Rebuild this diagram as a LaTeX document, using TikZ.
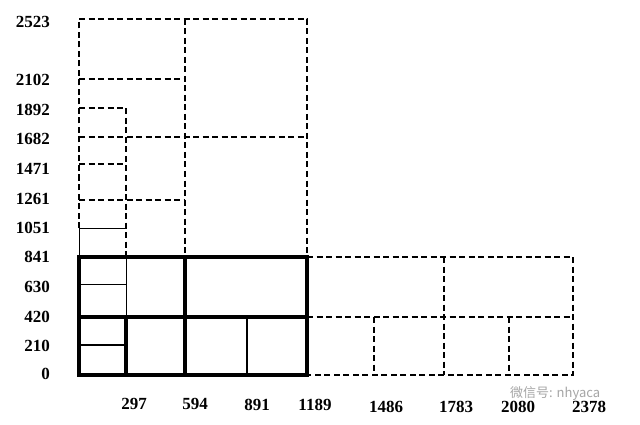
\documentclass[tikz,border=0pt]{standalone}
\usepackage{fontspec}
\setmainfont{Liberation Serif}
\newfontfamily\cjkfont{Noto Sans CJK SC}
\begin{document}
\begin{tikzpicture}[x=1pt,y=-1pt,
  thickln/.style={line width=3.4pt,line cap=rect},
  medln/.style={line width=2pt},
  thinln/.style={line width=1pt},
  dashln/.style={line width=1.3pt,dash pattern=on 6pt off 3.5pt},
  ylab/.style={anchor=east,font=\bfseries\fontsize{17}{17}\selectfont,inner sep=0pt},
  xlab/.style={anchor=center,font=\bfseries\fontsize{17}{17}\selectfont,inner sep=0pt}]
\useasboundingbox[fill=white] (0,0) rectangle (640,425);
% dashed outer parts
\draw[dashln] (79,228) -- (79,19) -- (307,19) -- (307,257);
\draw[dashln] (185,19) -- (185,257);
\draw[dashln] (79,79) -- (185,79);
\draw[dashln] (79,137) -- (307,137);
\draw[dashln] (79,108) -- (126,108) -- (126,257);
\draw[dashln] (79,164) -- (126,164);
\draw[dashln] (79,200) -- (185,200);
\draw[dashln] (307,257) -- (573,257) -- (573,375) -- (307,375);
\draw[dashln] (307,317) -- (573,317);
\draw[dashln] (444,257) -- (444,375);
\draw[dashln] (374,317) -- (374,375);
\draw[dashln] (509,317) -- (509,375);
% thin solid
\draw[thinln] (126,317) -- (126,257);
\draw[thinln] (79,284) -- (126,284);
\draw[thinln] (79,257) -- (79,228) -- (126,228);
% medium
\draw[medln] (247,375) -- (247,317);
\draw[medln] (79,345) -- (126,345);
% thick
\draw[thickln] (79,375) rectangle (307,257);
\draw[thickln] (79,317) -- (307,317);
\draw[thickln] (185,375) -- (185,257);
\draw[thickln] (126,375) -- (126,317);
% left labels
\node[ylab] (y0) at (50,374) {0};
\node[ylab] (y1) at (50,346) {210};
\node[ylab] (y2) at (50,317) {420};
\node[ylab] (y3) at (50,287) {630};
\node[ylab] (y4) at (50,257) {841};
\node[ylab] (y5) at (50,228) {1051};
\node[ylab] (y6) at (50,199) {1261};
\node[ylab] (y7) at (50,169) {1471};
\node[ylab] (y8) at (50,139) {1682};
\node[ylab] (y9) at (50,110) {1892};
\node[ylab] (y10) at (50,80) {2102};
\node[ylab] (y11) at (50,22) {2523};
% bottom labels
\node[xlab] (x1) at (134,404) {297};
\node[xlab] (x2) at (195,404) {594};
\node[xlab] (x3) at (257,405) {891};
\node[xlab] (x4) at (315,405) {1189};
\node[xlab] (x5) at (386,407) {1486};
\node[xlab] (x6) at (456,407) {1783};
\node[xlab] (x7) at (518,407) {2080};
\node[xlab] (x8) at (589,407) {2378};
% watermark
\node[anchor=west,text=black!35,font=\cjkfont\fontsize{13}{13}\selectfont,inner sep=0pt] (wm) at (510,394) {微信号: nhyaca};
\end{tikzpicture}
\end{document}
